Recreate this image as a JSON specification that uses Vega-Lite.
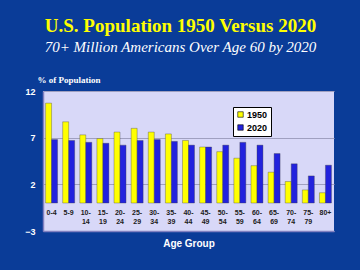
{
  "$schema": "https://vega.github.io/schema/vega-lite/v6.json",
  "width": 291,
  "height": 140,
  "autosize": {"type": "none"},
  "padding": {"left": 43, "top": 91, "right": 26, "bottom": 39},
  "background": "#0a3c98",
  "title": {
    "text": "U.S. Population 1950 Versus 2020",
    "subtitle": "70+ Million Americans Over Age 60 by 2020",
    "anchor": "middle",
    "frame": "group",
    "dx": -8,
    "offset": 20,
    "font": "Liberation Serif",
    "fontSize": 19,
    "fontWeight": "bold",
    "color": "#ffff00",
    "subtitleFont": "Liberation Serif",
    "subtitleFontSize": 15,
    "subtitleFontStyle": "italic",
    "subtitleColor": "#ffffff",
    "subtitlePadding": 4
  },
  "data": {
    "values": [
      {"age": "0-4", "year": "1950", "pct": 10.7}, {"age": "0-4", "year": "2020", "pct": 6.8},
      {"age": "5-9", "year": "1950", "pct": 8.7}, {"age": "5-9", "year": "2020", "pct": 6.7},
      {"age": "10- 14", "year": "1950", "pct": 7.3}, {"age": "10- 14", "year": "2020", "pct": 6.5},
      {"age": "15- 19", "year": "1950", "pct": 6.9}, {"age": "15- 19", "year": "2020", "pct": 6.4},
      {"age": "20- 24", "year": "1950", "pct": 7.6}, {"age": "20- 24", "year": "2020", "pct": 6.2},
      {"age": "25- 29", "year": "1950", "pct": 8.0}, {"age": "25- 29", "year": "2020", "pct": 6.7},
      {"age": "30- 34", "year": "1950", "pct": 7.6}, {"age": "30- 34", "year": "2020", "pct": 6.8},
      {"age": "35- 39", "year": "1950", "pct": 7.4}, {"age": "35- 39", "year": "2020", "pct": 6.6},
      {"age": "40- 44", "year": "1950", "pct": 6.7}, {"age": "40- 44", "year": "2020", "pct": 6.2},
      {"age": "45- 49", "year": "1950", "pct": 6.0}, {"age": "45- 49", "year": "2020", "pct": 6.0},
      {"age": "50- 54", "year": "1950", "pct": 5.5}, {"age": "50- 54", "year": "2020", "pct": 6.2},
      {"age": "55- 59", "year": "1950", "pct": 4.8}, {"age": "55- 59", "year": "2020", "pct": 6.5},
      {"age": "60- 64", "year": "1950", "pct": 4.0}, {"age": "60- 64", "year": "2020", "pct": 6.2},
      {"age": "65- 69", "year": "1950", "pct": 3.3}, {"age": "65- 69", "year": "2020", "pct": 5.3},
      {"age": "70- 74", "year": "1950", "pct": 2.3}, {"age": "70- 74", "year": "2020", "pct": 4.2},
      {"age": "75- 79", "year": "1950", "pct": 1.4}, {"age": "75- 79", "year": "2020", "pct": 2.9},
      {"age": "80+", "year": "1950", "pct": 1.1}, {"age": "80+", "year": "2020", "pct": 4.05}
    ]
  },
  "mark": {"type": "bar", "strokeWidth": 0.6, "strokeOpacity": 0.6},
  "encoding": {
    "x": {
      "field": "age",
      "type": "nominal",
      "sort": null,
      "scale": {"paddingInner": 0.3, "paddingOuter": 0.15},
      "axis": {
        "title": "Age Group",
        "titleColor": "#ffffff",
        "titleFont": "Liberation Sans",
        "titleFontSize": 10,
        "titleFontWeight": "bold",
        "titleBaseline": "middle",
        "titleY": 12,
        "labelExpr": "split(datum.label, ' ')",
        "labelAngle": 0,
        "labelBaseline": "top",
        "labelPadding": -23,
        "labelFont": "Liberation Sans",
        "labelFontSize": 7,
        "labelFontWeight": "bold",
        "labelColor": "#202020",
        "labelLineHeight": 9,
        "ticks": false,
        "domainColor": "#8080c0",
        "domainWidth": 1.5,
        "grid": false
      }
    },
    "xOffset": {"field": "year", "type": "nominal"},
    "y": {
      "field": "pct",
      "type": "quantitative",
      "scale": {"domain": [-3, 12], "nice": false, "zero": false},
      "axis": {
        "values": [-3, 2, 7, 12],
        "title": "% of Population",
        "titleAngle": 0,
        "titleAlign": "left",
        "titleBaseline": "alphabetic",
        "titleX": -6,
        "titleY": -9,
        "titleColor": "#ffffff",
        "titleFont": "Liberation Serif",
        "titleFontSize": 9,
        "titleFontWeight": "bold",
        "labelColor": "#ffffff",
        "labelFont": "Liberation Sans",
        "labelFontSize": 9,
        "labelFontWeight": "bold",
        "labelPadding": 8,
        "ticks": false,
        "domainColor": "#8080c0",
        "domainWidth": 1.5,
        "grid": true,
        "gridColor": "#a0a0c0",
        "gridWidth": 1
      }
    },
    "y2": {"datum": 0},
    "color": {
      "field": "year",
      "type": "nominal",
      "scale": {"domain": ["1950", "2020"], "range": ["#ffff00", "#2222dd"]},
      "legend": {
        "title": null,
        "orient": "none",
        "legendX": 190,
        "legendY": 16,
        "fillColor": "#ffffff",
        "strokeColor": "#000000",
        "padding": 3,
        "symbolType": "square",
        "symbolSize": 30,
        "symbolStrokeColor": "#000000",
        "symbolStrokeWidth": 0.6,
        "labelFont": "Liberation Sans",
        "labelFontSize": 9,
        "labelFontWeight": "bold",
        "labelColor": "#000000",
        "rowPadding": 3,
        "labelOffset": 2
      }
    },
    "stroke": {"value": "#404040"}
  },
  "config": {
    "view": {"fill": "#d8d8f8", "stroke": null}
  }
}
